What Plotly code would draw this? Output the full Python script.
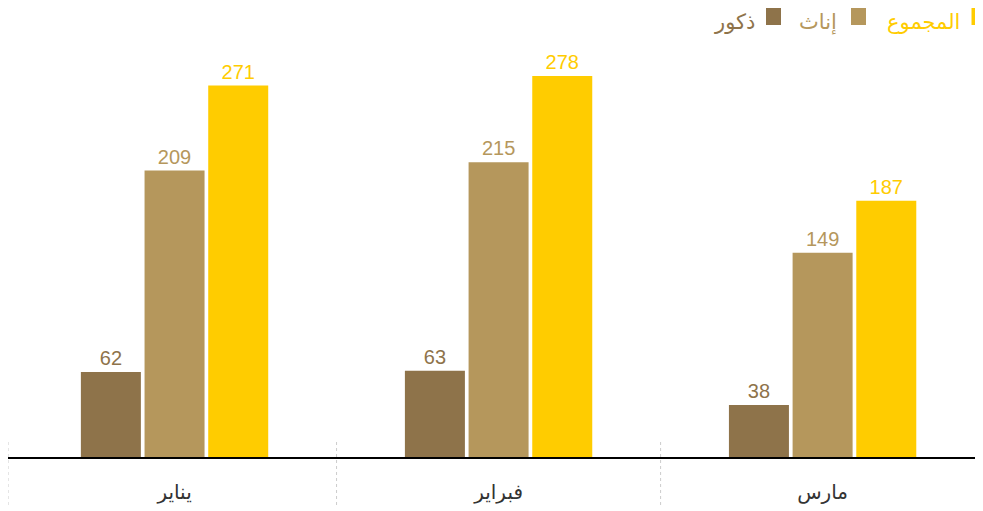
import plotly.graph_objects as go

months = ["يناير", "فبراير", "مارس"]
series_names = ["ذكور", "إناث", "المجموع"]
males = [62, 63, 38]
females = [209, 215, 149]
totals = [271, 278, 187]
colors = ["#8E734A", "#B5975C", "#FFCC00"]

# page has an 8px body margin; figure is offset by (8, 8)
OFF = 8
W, H = 975, 503
L, R, T, B = 0, 0, 0, 54
PW, PH = W - L - R, H - T - B

def px_x(px):
    return (px - OFF - L) / PW

def px_y(py):
    return (H - B - (py - OFF)) / PH

x_pos = list(range(len(months)))
fig = go.Figure()
for name, vals, col in zip(series_names, [males, females, totals], colors):
    fig.add_trace(go.Bar(
        x=x_pos, y=vals, name=name, marker=dict(color=col, line=dict(width=0)),
        text=[str(v) for v in vals], textposition="outside",
        textfont=dict(family="Liberation Sans, Arial", size=20, color=col),
        cliponaxis=False, showlegend=False,
    ))

# dotted separators
shapes = []
for xv, ref in [(0, "paper"), (0.5, "x"), (1.5, "x")]:
    shapes.append(dict(type="line", xref=ref, yref="paper", x0=xv, x1=xv,
                       y0=px_y(505), y1=px_y(441),
                       line=dict(color="#cccccc", width=1, dash="dot")))

# manual RTL legend
legend_items = [
    ("المجموع", colors[2], 962, 971.5, 978.5),
    ("إناث", colors[1], 839, 851, 866),
    ("ذكور", colors[0], 757, 766, 781),
]
annotations = []
for label, col, tx, sx0, sx1 in legend_items:
    shapes.append(dict(type="rect", xref="paper", yref="paper",
                       x0=px_x(sx0), x1=px_x(sx1), y0=px_y(25), y1=px_y(8),
                       fillcolor=col, line=dict(width=0)))
    annotations.append(dict(text=label, xref="paper", yref="paper",
                            x=px_x(tx), y=px_y(8), xanchor="right", yanchor="top",
                            showarrow=False,
                            font=dict(family="DejaVu Sans", size=21, color=col)))

fig.update_layout(
    width=W, height=H,
    margin=dict(l=L, r=R, t=T, b=B, pad=0),
    paper_bgcolor="white", plot_bgcolor="white",
    barmode="group", bargap=0.4105, bargroupgap=0.0576,
    shapes=shapes, annotations=annotations,
    xaxis=dict(range=[-0.514, 2.495], tickmode="array", tickvals=x_pos, ticktext=months,
               showline=True, linecolor="black", linewidth=2, showgrid=False,
               zeroline=False, ticks="", ticklabelstandoff=16,
               tickfont=dict(family="DejaVu Sans", size=20, color="#333333")),
    yaxis=dict(range=[0, 449 * 278 / 381], visible=False, showgrid=False, zeroline=False),
    font=dict(family="DejaVu Sans"),
)

fig.write_html("out.html")
